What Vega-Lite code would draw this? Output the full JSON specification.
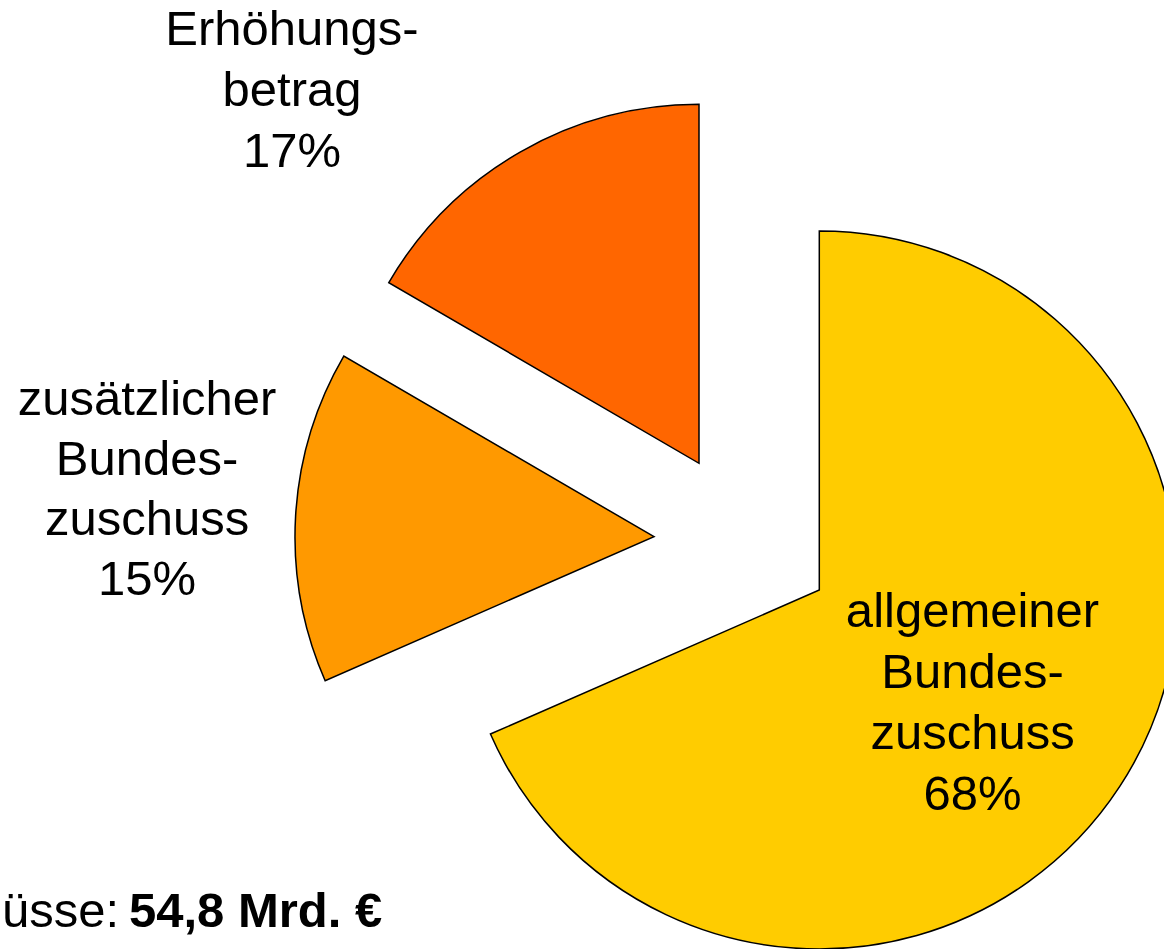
{
  "$schema": "https://vega.github.io/schema/vega-lite/v6.json",
  "width": 1164,
  "height": 949,
  "autosize": {"type": "none"},
  "padding": 0,
  "background": "white",
  "config": {"view": {"stroke": null}, "text": {"font": "Liberation Sans"}},
  "datasets": {
    "slices": [
      {"key": "A", "name": "allgemeiner Bundeszuschuss", "label": "allgemeiner\nBundes-\nzuschuss\n68%", "value": 37.5, "order": 1},
      {"key": "Z", "name": "zusätzlicher Bundeszuschuss", "label": "zusätzlicher\nBundes-\nzuschuss\n15%", "value": 8.2, "order": 2},
      {"key": "E", "name": "Erhöhungsbetrag", "label": "Erhöhungs-\nbetrag\n17%", "value": 9.1, "order": 3}
    ],
    "total": [{"lead": "Bundeszuschüsse:", "sum": "54,8 Mrd. €"}]
  },
  "layer": [
    {
      "data": {"name": "slices"},
      "mark": {"type": "arc", "radius": 359, "stroke": "black", "strokeWidth": 1.5, "xOffset": 237.3, "yOffset": 115.5},
      "encoding": {
        "theta": {"field": "value", "type": "quantitative", "stack": true},
        "order": {"field": "order", "type": "quantitative"},
        "color": {"field": "name", "type": "nominal", "scale": {"domain": ["allgemeiner Bundeszuschuss", "zusätzlicher Bundeszuschuss", "Erhöhungsbetrag"], "range": ["#FFCC00", "#FF9900", "#FF6600"]}, "legend": null},
        "opacity": {"condition": {"test": "datum.key === 'A'", "value": 1}, "value": 0}
      }
    },
    {
      "data": {"name": "slices"},
      "mark": {"type": "arc", "radius": 359, "stroke": "black", "strokeWidth": 1.5, "xOffset": 72, "yOffset": 62.2},
      "encoding": {
        "theta": {"field": "value", "type": "quantitative", "stack": true},
        "order": {"field": "order", "type": "quantitative"},
        "color": {"field": "name", "type": "nominal", "legend": null},
        "opacity": {"condition": {"test": "datum.key === 'Z'", "value": 1}, "value": 0}
      }
    },
    {
      "data": {"name": "slices"},
      "mark": {"type": "arc", "radius": 359, "stroke": "black", "strokeWidth": 1.5, "xOffset": 117, "yOffset": -11.2},
      "encoding": {
        "theta": {"field": "value", "type": "quantitative", "stack": true},
        "order": {"field": "order", "type": "quantitative"},
        "color": {"field": "name", "type": "nominal", "legend": null},
        "opacity": {"condition": {"test": "datum.key === 'E'", "value": 1}, "value": 0}
      }
    },
    {
      "data": {"name": "slices"},
      "mark": {"type": "text", "radius": 190, "dx": 231.5, "dy": 33.2, "fontSize": 49, "lineHeight": 61, "lineBreak": "\n", "align": "center", "baseline": "middle", "color": "black"},
      "encoding": {
        "theta": {"field": "value", "type": "quantitative", "stack": true},
        "order": {"field": "order", "type": "quantitative"},
        "detail": {"field": "name", "type": "nominal"},
        "text": {"condition": {"test": "datum.key === 'A'", "field": "label"}, "value": ""}
      }
    },
    {
      "data": {"name": "slices"},
      "mark": {"type": "text", "radius": 500, "dx": 64.2, "dy": -45.9, "fontSize": 49, "lineHeight": 60, "lineBreak": "\n", "align": "center", "baseline": "middle", "color": "black"},
      "encoding": {
        "theta": {"field": "value", "type": "quantitative", "stack": true},
        "order": {"field": "order", "type": "quantitative"},
        "detail": {"field": "name", "type": "nominal"},
        "text": {"condition": {"test": "datum.key === 'Z'", "field": "label"}, "value": ""}
      }
    },
    {
      "data": {"name": "slices"},
      "mark": {"type": "text", "radius": 420, "dx": -80.7, "dy": -80.4, "fontSize": 49, "lineHeight": 61, "lineBreak": "\n", "align": "center", "baseline": "middle", "color": "black"},
      "encoding": {
        "theta": {"field": "value", "type": "quantitative", "stack": true},
        "order": {"field": "order", "type": "quantitative"},
        "detail": {"field": "name", "type": "nominal"},
        "text": {"condition": {"test": "datum.key === 'E'", "field": "label"}, "value": ""}
      }
    },
    {
      "data": {"name": "total"},
      "mark": {"type": "text", "align": "right", "baseline": "alphabetic", "dx": -463, "dy": 452.5, "fontSize": 49, "color": "black"},
      "encoding": {"text": {"field": "lead"}}
    },
    {
      "data": {"name": "total"},
      "mark": {"type": "text", "align": "left", "baseline": "alphabetic", "dx": -453, "dy": 452.5, "fontSize": 49, "fontWeight": "bold", "color": "black"},
      "encoding": {"text": {"field": "sum"}}
    }
  ]
}
